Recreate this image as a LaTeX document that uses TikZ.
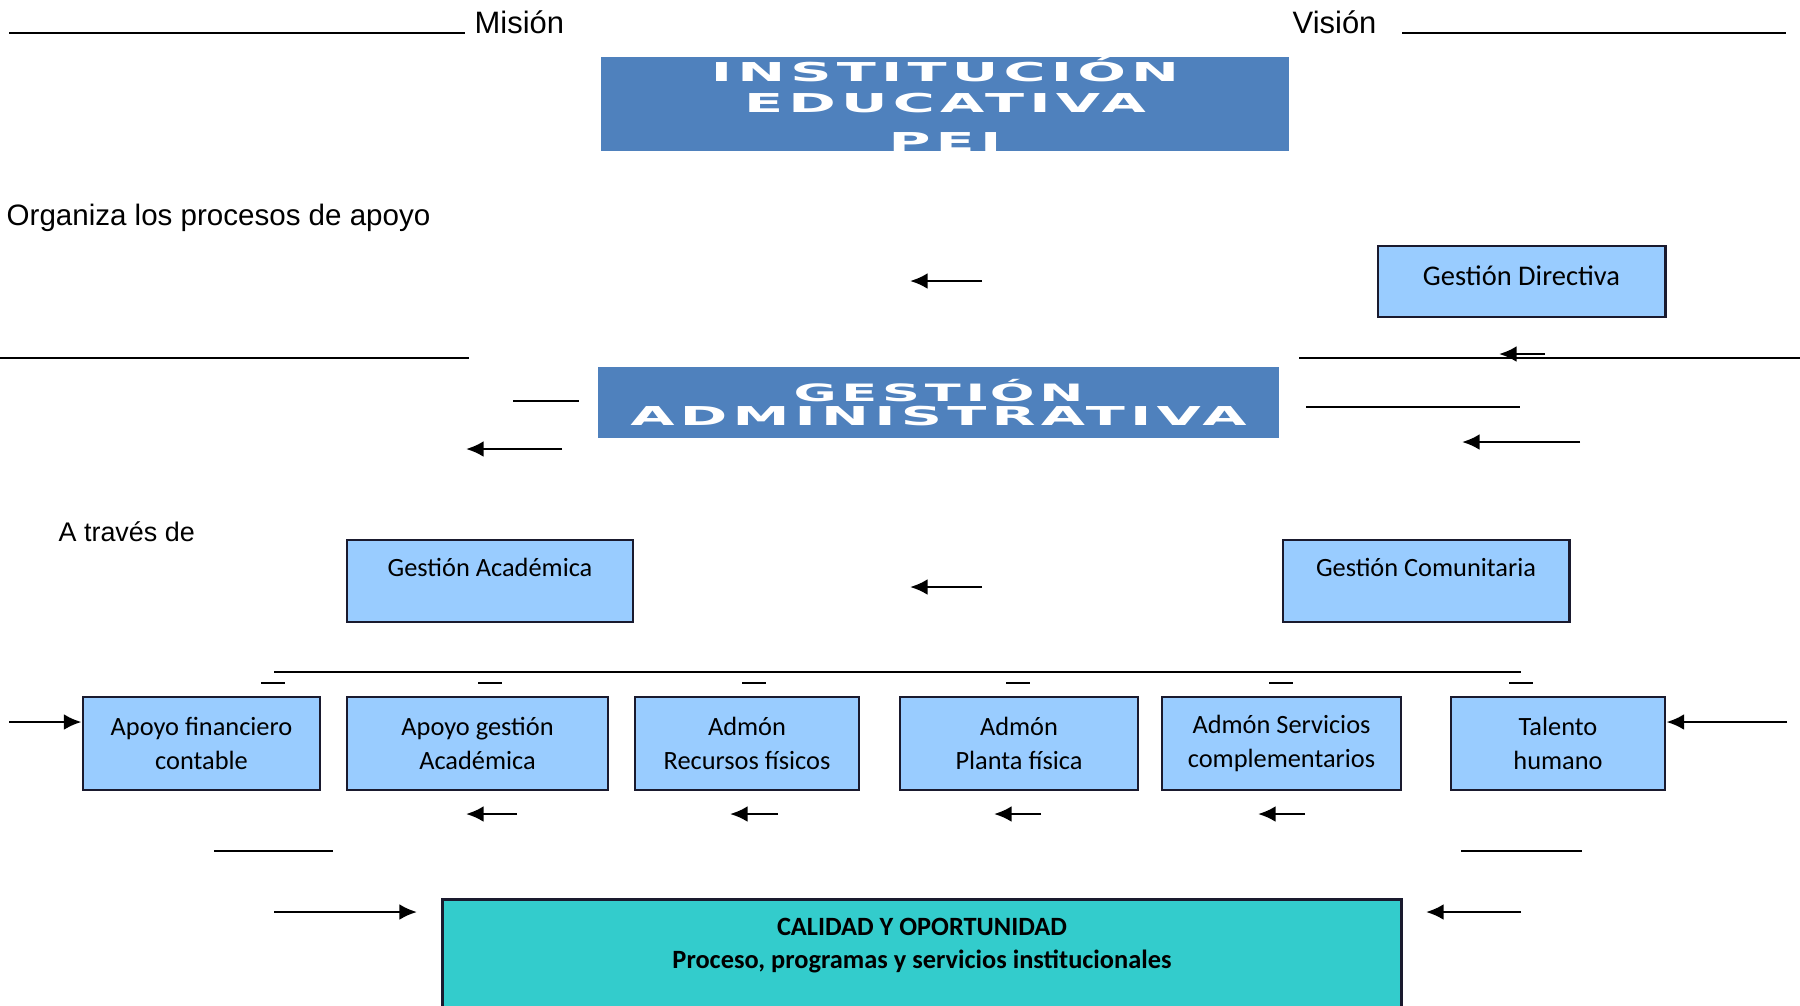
\documentclass[tikz,border=0pt]{standalone}
\usepackage{fontspec}
\setmainfont{Liberation Sans}
\newfontfamily\boxfont{Carlito}
\newfontfamily\hdrfont{DejaVu Sans}[FakeStretch=2.2,LetterSpace=20]
\usetikzlibrary{arrows.meta,positioning}
\definecolor{hdrblue}{HTML}{4F81BD}
\definecolor{lightblue}{HTML}{99CCFF}
\definecolor{calidad}{HTML}{33CCCC}
\definecolor{boxline}{HTML}{1A1A2E}
\tikzset{
  hdr/.style={fill=hdrblue,text=white,inner sep=0pt,align=center,
    font=\hdrfont\bfseries\fontsize{7.4pt}{8.8pt}\selectfont},
  gbox/.style={draw=boxline,line width=0.8pt,fill=lightblue,inner sep=0pt,align=center},
  rowbox/.style={gbox,minimum height=0.93cm,font=\boxfont\fontsize{7.5pt}{9.5pt}\selectfont},
  arr/.style={-{Latex[length=5pt,width=4.5pt]},line width=0.75pt},
  hline/.style={line width=0.75pt},
  lbl/.style={inner sep=0pt,anchor=base west}
}
\begin{document}
\begin{tikzpicture}[x=0.01cm,y=-0.01cm]
\useasboundingbox (0,0) rectangle (1800,1005);
% cabecera
\node[lbl,font=\fontsize{8.8pt}{10pt}\selectfont] (mis) at (474,33) {Misión};
\node[lbl,font=\fontsize{8.8pt}{10pt}\selectfont] (vis) at (1292,33) {Visión};
\draw[hline] (9,33) -- (465,33);
\draw[hline] (1402,33) -- (1786,33);
\node[hdr,minimum width=6.88cm,minimum height=0.94cm] (ins) at (945,104) {INSTITUCIÓN\\EDUCATIVA\\[2.3pt]PEI};
\node[lbl,font=\fontsize{8.4pt}{10pt}\selectfont] (org) at (6,225) {Organiza los procesos de apoyo};
\node[gbox,minimum width=2.87cm,minimum height=0.71cm,font=\boxfont\fontsize{8.1pt}{10pt}\selectfont,
  text height=5.7pt,text depth=3.7pt] (dir) at (1521.5,281.5) {Gestión Directiva};
\draw[arr] (982,281) -- (910,281);
% gestion administrativa
\draw[hline] (0,358) -- (469,358);
\draw[hline] (1299,358) -- (1800,358);
\draw[arr] (1545,354) -- (1499,354);
\node[hdr,minimum width=6.81cm,minimum height=0.71cm,font=\hdrfont\bfseries\fontsize{7.4pt}{6.9pt}\selectfont]
  (adm) at (938.5,402.5) {{\fontsize{6.8pt}{6.9pt}\selectfont GESTIÓN}\\ADMINISTRATIVA};
\draw[hline] (513,401) -- (579,401);
\draw[arr] (562,449) -- (466,449);
\draw[hline] (1306,407) -- (1520,407);
\draw[arr] (1580,442) -- (1462,442);
% a traves de
\node[lbl,font=\fontsize{7.65pt}{9pt}\selectfont] (atr) at (58,541) {A través de};
\node[gbox,minimum width=2.86cm,minimum height=0.82cm,font=\boxfont\fontsize{7.5pt}{9pt}\selectfont,
  text height=5.4pt,text depth=7.7pt] (aca) at (490,581) {Gestión Académica};
\node[gbox,minimum width=2.86cm,minimum height=0.82cm,font=\boxfont\fontsize{7.5pt}{9pt}\selectfont,
  text height=5.4pt,text depth=7.7pt] (com) at (1426,581) {Gestión Comunitaria};
\draw[arr] (982,587) -- (910,587);
% procesos de apoyo
\draw[hline] (274,672) -- (1521,672);
\foreach \x in {273,490,754,1018,1281,1521} \draw[hline] (\x-12,683) -- (\x+12,683);
\node[rowbox,minimum width=2.37cm] (afc) at (201.5,743.5) {Apoyo financiero\\contable};
\node[rowbox,minimum width=2.61cm] (aga) at (477.5,743.5) {Apoyo gestión\\Académica};
\node[rowbox,minimum width=2.24cm] (arf) at (747,743.5) {Admón\\Recursos físicos};
\node[rowbox,minimum width=2.38cm] (apf) at (1019,743.5) {Admón\\Planta física};
\node[rowbox,minimum width=2.39cm] (asc) at (1281.5,743.5) {Admón Servicios\\complementarios};
\node[rowbox,minimum width=2.14cm] (tal) at (1558,743.5) {Talento\\humano};
\coordinate (inl) at (9,722);
\coordinate (inr) at (1787,722);
\draw[arr] (inl) -- (inl -| afc.west);
\draw[arr] (inr) -- (inr -| tal.east);
\foreach \a/\b in {517/466,778/730,1041/994,1305/1258} \draw[arr] (\a,814) -- (\b,814);
\draw[hline] (214,851) -- (333,851);
\draw[hline] (1461,851) -- (1582,851);
% calidad
\draw[arr] (274,912) -- (417,912);
\draw[arr] (1521,912) -- (1426,912);
\node[draw=boxline,line width=0.8pt,fill=calidad,anchor=north,minimum width=9.58cm,minimum height=1.3cm] (cal) at (922,898) {};
\node[font=\boxfont\bfseries\fontsize{7.5pt}{9.2pt}\selectfont,align=center,anchor=base,inner sep=0pt]
  (calt) at (922,968) {CALIDAD Y OPORTUNIDAD\\Proceso, programas y servicios institucionales};
\end{tikzpicture}
\end{document}
